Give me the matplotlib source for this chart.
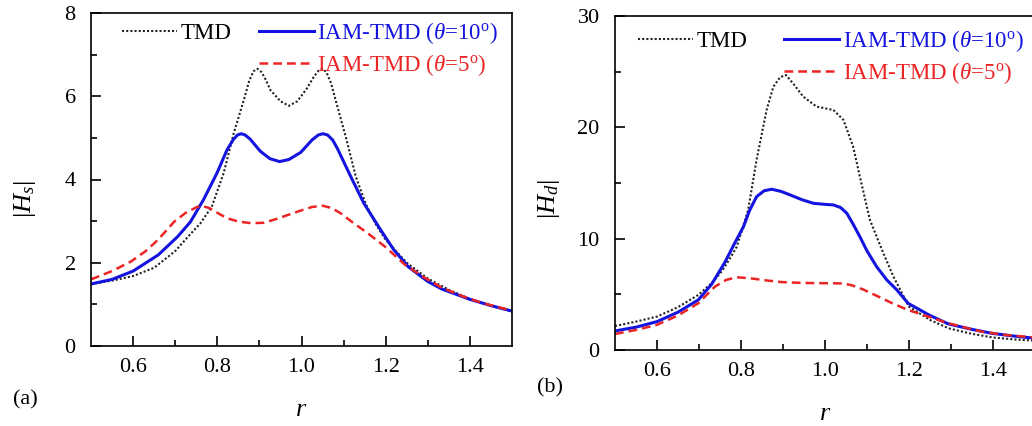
import matplotlib
matplotlib.use("Agg")
import matplotlib.pyplot as plt
from matplotlib.lines import Line2D

plt.rcParams["font.family"] = ["Liberation Serif", "DejaVu Serif"]
plt.rcParams["mathtext.fontset"] = "custom"
plt.rcParams["mathtext.rm"] = "Liberation Serif"
plt.rcParams["mathtext.it"] = "Liberation Serif:italic"

# ---- panel (a): |Hs| vs r ----
r_tmd_a = [0.50, 0.55, 0.60, 0.65, 0.70, 0.73, 0.76, 0.787, 0.815, 0.839, 0.863, 0.876,
           0.886, 0.895, 0.905, 0.915, 0.926, 0.95, 0.970, 0.99, 1.013, 1.03, 1.041,
           1.05, 1.059, 1.07, 1.081, 1.105, 1.129, 1.152, 1.175, 1.20, 1.25, 1.30,
           1.35, 1.40, 1.45, 1.50]
hs_tmd = [1.49, 1.57, 1.68, 1.88, 2.28, 2.62, 2.95, 3.35, 4.15, 5.11, 5.91, 6.38,
          6.60, 6.66, 6.58, 6.40, 6.15, 5.88, 5.77, 5.88, 6.19, 6.48, 6.62,
          6.66, 6.58, 6.32, 5.91, 5.03, 4.07, 3.43, 2.95, 2.55, 2.00, 1.62,
          1.35, 1.13, 0.97, 0.83]

r_iam10_a = [0.50, 0.55, 0.60, 0.66, 0.706, 0.736, 0.767, 0.799, 0.823, 0.838, 0.848,
             0.857, 0.866, 0.878, 0.902, 0.925, 0.948, 0.97, 0.998, 1.025, 1.04,
             1.051, 1.062, 1.074, 1.085, 1.117, 1.148, 1.188, 1.22, 1.254, 1.30,
             1.333, 1.40, 1.45, 1.50]
hs_iam10 = [1.49, 1.60, 1.80, 2.19, 2.63, 2.98, 3.51, 4.15, 4.71, 4.96, 5.07,
            5.10, 5.07, 4.97, 4.68, 4.50, 4.43, 4.48, 4.65, 4.95, 5.07,
            5.10, 5.07, 4.95, 4.75, 4.07, 3.43, 2.79, 2.30, 1.90, 1.55,
            1.37, 1.12, 0.97, 0.84]

r_iam5_a = [0.50, 0.55, 0.595, 0.63, 0.659, 0.698, 0.725, 0.75, 0.76, 0.78, 0.80,
            0.823, 0.85, 0.881, 0.91, 0.94, 0.974, 1.00, 1.025, 1.05, 1.07, 1.093,
            1.12, 1.156, 1.198, 1.246, 1.294, 1.33, 1.373, 1.43, 1.50]
hs_iam5 = [1.60, 1.80, 2.03, 2.28, 2.55, 2.99, 3.20, 3.33, 3.37, 3.32, 3.20,
           3.07, 2.99, 2.95, 2.96, 3.05, 3.17, 3.26, 3.34, 3.37, 3.32, 3.19,
           2.98, 2.72, 2.39, 1.95, 1.63, 1.42, 1.23, 1.03, 0.85]

# ---- panel (b): |Hd| vs r ----
r_tmd_b = [0.50, 0.55, 0.60, 0.65, 0.698, 0.73, 0.755, 0.775, 0.790, 0.817, 0.837,
           0.861, 0.877, 0.893, 0.907, 0.925, 0.948, 0.98, 1.02, 1.044, 1.067,
           1.083, 1.107, 1.139, 1.163, 1.20, 1.25, 1.294, 1.35, 1.397, 1.45, 1.50]
hd_tmd = [2.16, 2.55, 3.00, 3.85, 4.94, 6.00, 7.10, 8.30, 9.28, 12.58, 17.07,
          21.56, 23.65, 24.50, 24.70, 23.90, 22.76, 21.86, 21.56, 20.66, 18.27,
          15.57, 11.68, 8.69, 6.59, 3.89, 2.70, 1.95, 1.45, 1.14, 0.95, 0.84]

r_iam10_b = [0.50, 0.55, 0.60, 0.65, 0.698, 0.73, 0.762, 0.785, 0.806, 0.82, 0.837,
             0.855, 0.873, 0.895, 0.917, 0.945, 0.972, 1.00, 1.02, 1.037, 1.052,
             1.067, 1.083, 1.10, 1.123, 1.147, 1.171, 1.198, 1.25, 1.294, 1.35,
             1.397, 1.45, 1.50]
hd_iam10 = [1.71, 2.05, 2.55, 3.40, 4.49, 5.90, 7.90, 9.60, 11.08, 12.50, 13.77,
            14.30, 14.44, 14.25, 13.93, 13.50, 13.18, 13.08, 13.03, 12.80, 12.28,
            11.30, 10.18, 8.90, 7.48, 6.30, 5.40, 4.19, 3.10, 2.34, 1.85,
            1.50, 1.25, 1.05]

r_iam5_b = [0.50, 0.55, 0.599, 0.65, 0.698, 0.738, 0.765, 0.79, 0.82, 0.86, 0.897,
            0.95, 1.00, 1.044, 1.065, 1.09, 1.119, 1.16, 1.198, 1.25, 1.294, 1.34,
            1.373, 1.43, 1.50]
hd_iam5 = [1.44, 1.80, 2.25, 3.10, 4.19, 5.69, 6.30, 6.53, 6.45, 6.25, 6.10,
           6.02, 6.00, 5.98, 5.80, 5.45, 4.94, 4.20, 3.59, 2.95, 2.40, 1.95,
           1.65, 1.35, 1.12]

BLUE = "#1414e0"
RED = "#ec2424"
BLACK = "#222222"

labels = ["TMD", r"IAM-TMD ($\theta$=10$^{\rm o}$)", r"IAM-TMD ($\theta$=5$^{\rm o}$)"]

fig = plt.figure(figsize=(10.32, 4.26), dpi=100)
ax1 = fig.add_axes([91 / 1032, 1 - 346 / 426, 421 / 1032, 333 / 426])
ax2 = fig.add_axes([615 / 1032, 1 - 350 / 426, 420 / 1032, 334 / 426])


def style_axes(ax, ymax, ystep, ylabel, ylab_y):
    ax.set_xlim(0.5, 1.5)
    ax.set_ylim(0, ymax)
    ax.set_xticks([0.6, 0.8, 1.0, 1.2, 1.4])
    ax.set_xticklabels(["0.6", "0.8", "1.0", "1.2", "1.4"])
    ax.set_xticks([0.7, 0.9, 1.1, 1.3], minor=True)
    ax.set_yticks(list(range(0, ymax + 1, ystep)))
    ax.set_yticks([ystep / 2 + i * ystep for i in range(ymax // ystep)], minor=True)
    ax.tick_params(which="both", direction="in", top=False, right=False,
                   labelsize=16, width=1.2)
    ax.tick_params(which="major", length=7)
    ax.tick_params(which="minor", length=4)
    ax.tick_params(axis="x", pad=9)
    ax.tick_params(axis="y", pad=11)
    for s in ax.spines.values():
        s.set_linewidth(1.2)
    ax.set_xlabel(r"$r$", fontsize=19)
    ax.set_ylabel(ylabel, fontsize=19)
    ax.xaxis.set_label_coords(0.5, -0.16)
    ax.yaxis.set_label_coords(-0.125, ylab_y)


def add_legend(ax, anchor, colspace):
    handles = ax.get_lines()[:3]
    blank = Line2D([], [], linestyle="none")
    leg = ax.legend([handles[0], blank, handles[1], handles[2]],
                    [labels[0], "", labels[1], labels[2]],
                    ncol=2, loc="upper left", bbox_to_anchor=anchor,
                    frameon=False, fontsize=16.5, handlelength=2.4,
                    handletextpad=0.15, columnspacing=colspace,
                    labelspacing=0.3, borderpad=0, borderaxespad=0)
    txt = leg.get_texts()
    txt[0].set_color("black")
    txt[2].set_color(BLUE)
    txt[3].set_color(RED)


ax1.plot(r_tmd_a, hs_tmd, color=BLACK, linestyle=(0, (1, 1)), lw=1.5)
ax1.plot(r_iam10_a, hs_iam10, color=BLUE, lw=2.2)
ax1.plot(r_iam5_a, hs_iam5, color=RED, linestyle=(0, (3.5, 2)), lw=1.8)
style_axes(ax1, 8, 2, r"$|H_s|$", 0.44)
add_legend(ax1, (0.073, 0.98), 1.2)

ax2.plot(r_tmd_b, hd_tmd, color=BLACK, linestyle=(0, (1, 1)), lw=1.5)
ax2.plot(r_iam10_b, hd_iam10, color=BLUE, lw=2.2)
ax2.plot(r_iam5_b, hd_iam5, color=RED, linestyle=(0, (3.5, 2)), lw=1.8)
style_axes(ax2, 30, 10, r"$|H_d|$", 0.45)
add_legend(ax2, (0.055, 0.965), 1.6)

fig.text(13 / 1032, 1 - 400 / 426, "(a)", fontsize=16, va="center", ha="left")
fig.text(537 / 1032, 1 - 388 / 426, "(b)", fontsize=16, va="center", ha="left")

fig.savefig("out.png", dpi=100)
